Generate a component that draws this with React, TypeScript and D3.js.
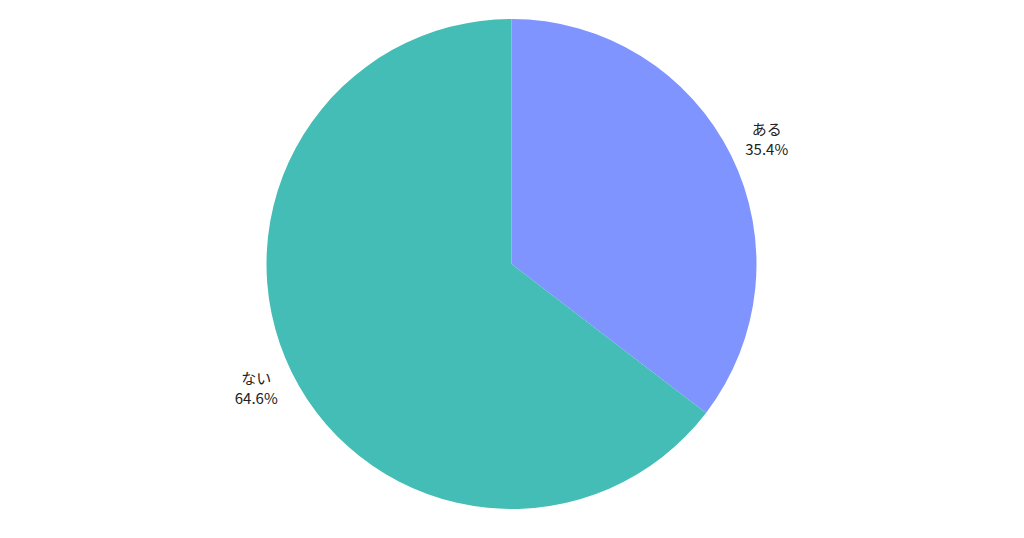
import React from 'react';
import * as d3 from 'd3';

const categories = ['ある', 'ない'];
const values = [35.4, 64.6];
const colors = ['#7F94FF', '#43BDB5'];

const width = 1024;
const height = 538;
const cx = 511.5;
const cy = 264;
const radius = 245;

export default function App() {
  const data = categories.map((c, i) => ({ label: c, value: values[i], color: colors[i] }));
  const pie = d3.pie<any>().sort(null).value(d => d.value);
  const arc = d3.arc<any>().innerRadius(0).outerRadius(radius);
  const arcs = pie(data);

  return (
    <svg width={width} height={height} style={{ position: 'absolute', left: 0, top: 0, background: '#fff' }}
      fontFamily="'Noto Sans CJK JP', 'Noto Sans', sans-serif">
      <g transform={`translate(${cx},${cy})`}>
        {arcs.map((a, i) => (
          <path key={i} d={arc(a) || ''} fill={a.data.color} />
        ))}
        {arcs.map((a, i) => {
          const mid = (a.startAngle + a.endAngle) / 2;
          const ex = Math.sin(mid) * (radius + 4);
          const ey = -Math.cos(mid) * (radius + 4);
          const right = ex > 0;
          const x = ex + (right ? 32 : -32);
          const top = ey < 0;
          const y1 = top ? ey - 19 : ey + 10;
          return (
            <text key={i} x={x} y={y1} fontSize={15} fill="#222" textAnchor="middle">
              <tspan x={x} dy={0}>{a.data.label}</tspan>
              <tspan x={x} dy={20}>{`${a.data.value.toFixed(1)}%`}</tspan>
            </text>
          );
        })}
      </g>
    </svg>
  );
}
